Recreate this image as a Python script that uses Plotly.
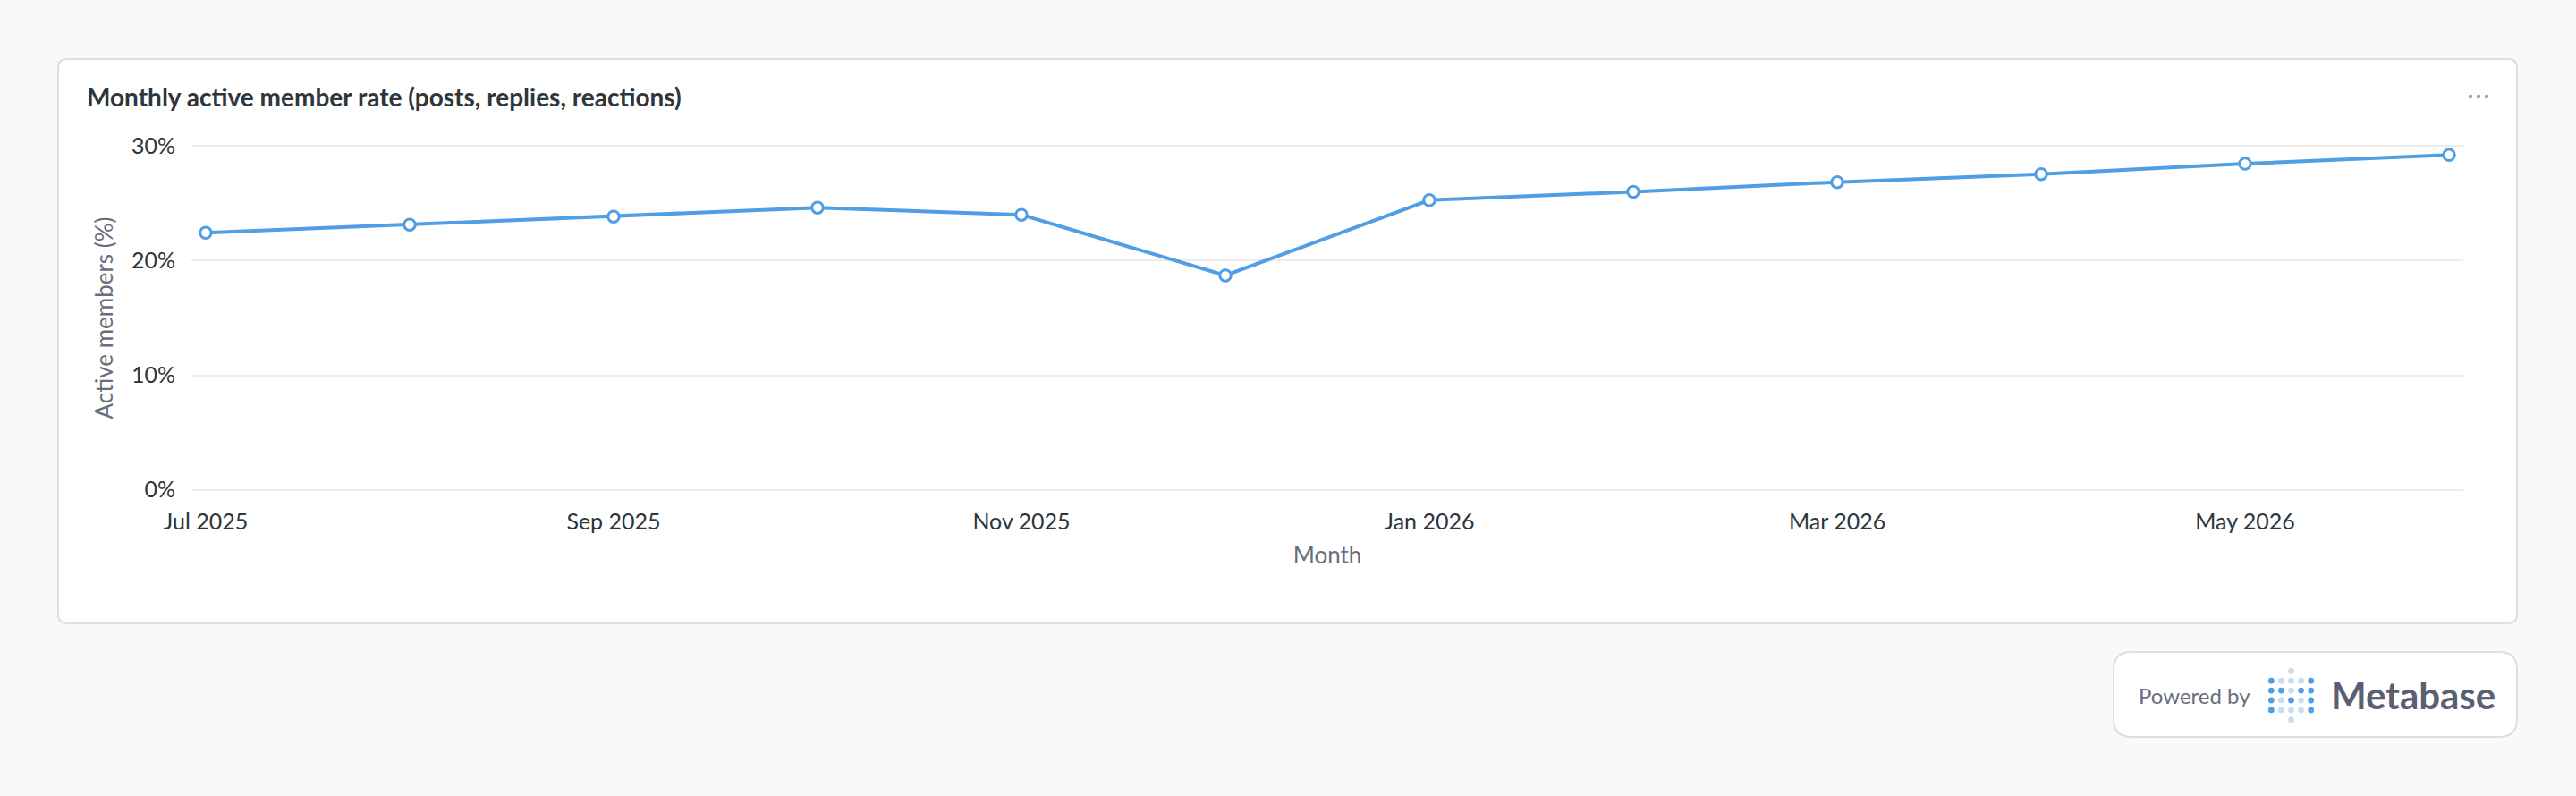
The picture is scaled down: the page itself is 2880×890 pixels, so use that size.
import plotly.graph_objects as go

# ---- data ----
months = ["Jul 2025", "Aug 2025", "Sep 2025", "Oct 2025", "Nov 2025", "Dec 2025",
          "Jan 2026", "Feb 2026", "Mar 2026", "Apr 2026", "May 2026", "Jun 2026"]
active_rate = [22.43, 23.14, 23.84, 24.62, 24.00, 18.71,
               25.28, 26.01, 26.85, 27.55, 28.46, 29.22]
x_tick_labels = ["Jul 2025", "Sep 2025", "Nov 2025", "Jan 2026", "Mar 2026", "May 2026"]
y_tick_values = [0, 10, 20, 30]
y_tick_text = ["0%", "10%", "20%", "30%"]

title_text = "Monthly active member rate (posts, replies, reactions)"
x_title = "Month"
y_title = "Active members (%)"

# ---- layout geometry (pixels) ----
W, H = 2880, 890
ML, MR, MT, MB = 214, 126, 162, 341
PW, PH = W - ML - MR, H - MT - MB

def xp(px):
    return (px - ML) / PW

def yp(py):
    return (H - MB - py) / PH

def rrect_path(x0, y0, x1, y1, r):
    pts = [
        ("M", [(x0 + r, y0)]), ("L", [(x1 - r, y0)]), ("Q", [(x1, y0), (x1, y0 + r)]),
        ("L", [(x1, y1 - r)]), ("Q", [(x1, y1), (x1 - r, y1)]),
        ("L", [(x0 + r, y1)]), ("Q", [(x0, y1), (x0, y1 - r)]),
        ("L", [(x0, y0 + r)]), ("Q", [(x0, y0), (x0 + r, y0)]),
    ]
    s = ""
    for cmd, ps in pts:
        s += cmd + " " + " ".join(f"{xp(a):.6f},{yp(b):.6f}" for a, b in ps) + " "
    return s + "Z"

BLUE = "#509ee3"
LIGHT_BLUE = "#c6ddf3"
TEXT_DARK = "#2e353b"
TEXT_MED = "#696e7b"
FONT = "Lato"

fig = go.Figure()
fig.add_trace(go.Scatter(
    x=months, y=active_rate, mode="lines+markers",
    line=dict(color=BLUE, width=4),
    marker=dict(size=12.5, color="white", line=dict(color=BLUE, width=3)),
    cliponaxis=False, showlegend=False,
))

shapes = []
# card
shapes.append(dict(type="path", xref="paper", yref="paper", layer="below",
                   path=rrect_path(65, 66, 2814, 697, 10),
                   fillcolor="white", line=dict(color="#dcdfe0", width=2)))
# powered-by box
shapes.append(dict(type="path", xref="paper", yref="paper", layer="below",
                   path=rrect_path(2363, 729, 2814, 824, 20),
                   fillcolor="white", line=dict(color="#dcdfe0", width=2)))
# card menu dots
for cx in (2762, 2771, 2780):
    r = 2.2
    shapes.append(dict(type="circle", xref="paper", yref="paper", layer="above",
                       x0=xp(cx - r), x1=xp(cx + r), y0=yp(108 + r), y1=yp(108 - r),
                       fillcolor="#9aa0a8", line=dict(width=0)))
# metabase logo dots
cols = [2539.3, 2550.4, 2561.5, 2572.6, 2583.7]
rows = [750.3, 761.2, 772.1, 783.0, 793.9, 804.8]
pattern = [
    "..L..",
    "DLLLD",
    "DDLDD",
    "DLDLD",
    "DLLLD",
    "..L..",
]
for ri, rowp in enumerate(pattern):
    for ci, ch in enumerate(rowp):
        if ch == ".":
            continue
        r = 3.4
        cx, cy = cols[ci], rows[ri]
        shapes.append(dict(type="circle", xref="paper", yref="paper", layer="above",
                           x0=xp(cx - r), x1=xp(cx + r), y0=yp(cy + r), y1=yp(cy - r),
                           fillcolor=BLUE if ch == "D" else LIGHT_BLUE, line=dict(width=0)))

annotations = [
    dict(text=f"<b>{title_text}</b>", xref="paper", yref="paper", x=xp(95), y=yp(108),
         xanchor="left", yanchor="middle", showarrow=False,
         font=dict(family=FONT, size=28, color=TEXT_DARK)),
    dict(text="Powered by", xref="paper", yref="paper", x=xp(2389), y=yp(777),
         xanchor="left", yanchor="middle", showarrow=False,
         font=dict(family=FONT, size=24, color=TEXT_MED)),
    dict(text="<b>Metabase</b>", xref="paper", yref="paper", x=xp(2604), y=yp(777),
         xanchor="left", yanchor="middle", showarrow=False,
         font=dict(family=FONT, size=42, color="#5a6072")),
]

fig.update_layout(
    width=W, height=H,
    margin=dict(l=ML, r=MR, t=MT, b=MB, autoexpand=False),
    paper_bgcolor="#f9f9f9", plot_bgcolor="rgba(0,0,0,0)",
    font=dict(family=FONT, color=TEXT_DARK),
    shapes=shapes, annotations=annotations,
    hovermode=False,
    xaxis=dict(
        type="category", range=[-0.07, 11.07],
        tickmode="array", tickvals=x_tick_labels, ticktext=x_tick_labels,
        showgrid=False, zeroline=False, showline=False, ticks="",
        ticklabelstandoff=17,
        tickfont=dict(family=FONT, size=25, color=TEXT_DARK),
        title=dict(text=x_title, standoff=15, font=dict(family=FONT, size=26, color=TEXT_MED)),
        automargin=False,
    ),
    yaxis=dict(
        range=[-0.1, 30.1], tickmode="array", tickvals=y_tick_values, ticktext=y_tick_text,
        showgrid=True, gridcolor="#ececec", gridwidth=1.5,
        zeroline=False, showline=False, ticks="",
        ticklabelstandoff=17,
        tickfont=dict(family=FONT, size=25, color=TEXT_DARK),
        title=dict(text=y_title, standoff=12, font=dict(family=FONT, size=26, color=TEXT_MED)),
        automargin=False,
    ),
)

fig.write_html(
    "out.html",
    config={"displayModeBar": False},
    post_script="document.body.style.margin='0';document.body.style.background='#f9f9f9';",
)
